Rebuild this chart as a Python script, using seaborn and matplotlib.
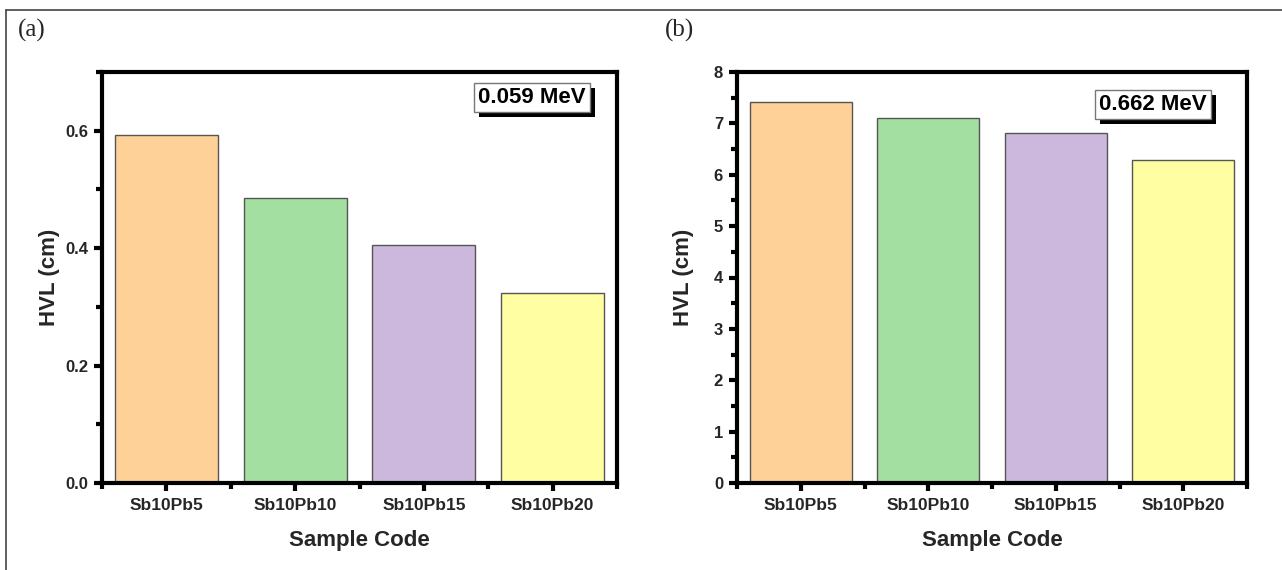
import matplotlib
matplotlib.use("Agg")
import matplotlib.pyplot as plt
import matplotlib.patheffects as pe
from matplotlib.lines import Line2D
from matplotlib.ticker import MultipleLocator, FormatStrFormatter
import pandas as pd
import seaborn as sns

samples = ["Sb10Pb5", "Sb10Pb10", "Sb10Pb15", "Sb10Pb20"]
hvl_low = [0.593, 0.485, 0.406, 0.323]     # 0.059 MeV
hvl_high = [7.41, 7.10, 6.81, 6.28]        # 0.662 MeV
energies = ["0.059 MeV", "0.662 MeV"]
panel_tags = ["(a)", "(b)"]
bar_colors = ["#FDD198", "#A3DFA0", "#CBB8DC", "#FFFEA3"]

sns.set_style("ticks")
plt.rcParams["font.family"] = ["Liberation Sans", "DejaVu Sans"]
plt.rcParams["font.weight"] = "bold"

W, H = 1282, 570
fig = plt.figure(figsize=(W / 100, H / 100), dpi=100)

# axes boxes in pixels: left, top, right, bottom
boxes = [(102, 72, 617, 483), (737, 72, 1247, 483)]
ylims = [(0, 0.7), (0, 8)]
majors = [0.2, 1]
minors = [0.1, 0.5]
yfmt = ["%.1f", "%d"]
ylabel_x = [0.039, 0.533]
tag_pos = [(0.014, 0.946), (0.519, 0.946)]
box_pos = [(0.835, 0.937), (0.816, 0.921)]
datasets = [hvl_low, hvl_high]

for i in range(2):
    l, t, r, b = boxes[i]
    ax = fig.add_axes([l / W, 1 - b / H, (r - l) / W, (b - t) / H])
    df = pd.DataFrame({"sample": samples, "hvl": datasets[i]})
    sns.barplot(data=df, x="sample", y="hvl", hue="sample", palette=bar_colors,
                legend=False, width=0.8, edgecolor="#555555", linewidth=1.0,
                saturation=1, ax=ax)
    ax.set_xlim(-0.5, 3.5)
    ax.set_ylim(*ylims[i])
    ax.yaxis.set_major_locator(MultipleLocator(majors[i]))
    ax.yaxis.set_minor_locator(MultipleLocator(minors[i]))
    ax.yaxis.set_major_formatter(FormatStrFormatter(yfmt[i]))
    ax.set_xticks([-0.5, 0.5, 1.5, 2.5, 3.5], minor=True)
    for sp in ax.spines.values():
        sp.set_linewidth(3.0)
        sp.set_color("black")
        sp.set_visible(True)
    ax.tick_params(axis="both", which="major", direction="out", length=6, width=3.0,
                   pad=4, color="black")
    ax.tick_params(axis="both", which="minor", direction="out", length=4, width=3.0,
                   color="black")
    ax.tick_params(axis="y", which="both", right=False, labelsize=12)
    ax.tick_params(axis="x", which="both", top=False, labelsize=12.5, pad=5)
    for lab in ax.get_xticklabels() + ax.get_yticklabels():
        lab.set_fontweight("bold")
    ax.set_xlabel("Sample Code", fontsize=16, fontweight="bold", labelpad=12)
    ax.set_ylabel("")
    fig.text(ylabel_x[i], 1 - ((t + b) / 2) / H, "HVL (cm)", rotation=90,
             fontsize=16, fontweight="bold", ha="center", va="center")

    # energy label in a box with a black drop shadow
    bx, by = box_pos[i]
    txt = ax.text(bx, by, energies[i], transform=ax.transAxes, fontsize=16,
                  fontweight="bold", ha="center", va="center", color="black",
                  bbox=dict(boxstyle="square,pad=0.18", facecolor="white",
                            edgecolor="#777777", linewidth=1.0))
    txt.get_bbox_patch().set_path_effects([
        pe.SimplePatchShadow(offset=(3.6, -3.6), shadow_rgbFace="black", alpha=1.0),
        pe.Normal()])

    fig.text(tag_pos[i][0], tag_pos[i][1], panel_tags[i], fontsize=18,
             family=["Liberation Serif", "DejaVu Serif"], fontweight="normal",
             ha="left", va="center")

# outer frame lines (left and top)
fig.add_artist(Line2D([6 / W, 6 / W], [0, 1 - 10 / H], color="#444444", linewidth=1.2))
fig.add_artist(Line2D([6 / W, 1], [1 - 10 / H, 1 - 10 / H], color="#444444", linewidth=1.2))

fig.savefig("out.png", dpi=100, facecolor="white")
